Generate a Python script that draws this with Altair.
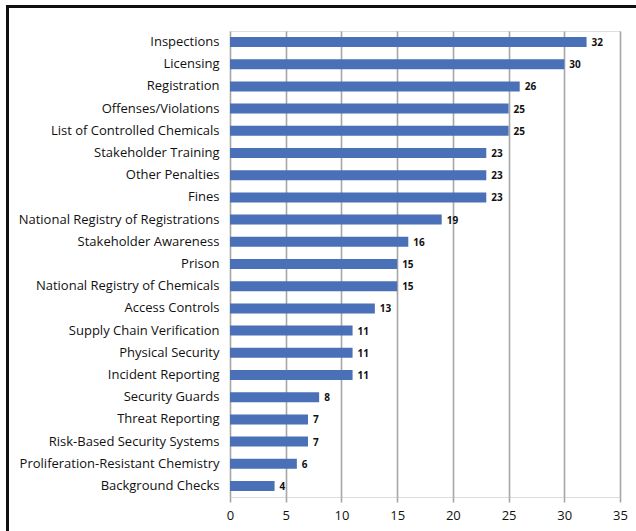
import altair as alt
import pandas as pd

categories = [
    "Inspections", "Licensing", "Registration", "Offenses/Violations",
    "List of Controlled Chemicals", "Stakeholder Training", "Other Penalties",
    "Fines", "National Registry of Registrations", "Stakeholder Awareness",
    "Prison", "National Registry of Chemicals", "Access Controls",
    "Supply Chain Verification", "Physical Security", "Incident Reporting",
    "Security Guards", "Threat Reporting", "Risk-Based Security Systems",
    "Proliferation-Resistant Chemistry", "Background Checks",
]
values = [32, 30, 26, 25, 25, 23, 23, 23, 19, 16, 15, 15, 13, 11, 11, 11, 8, 7, 7, 6, 4]
x_ticks = [0, 5, 10, 15, 20, 25, 30, 35]

df = pd.DataFrame({"category": categories, "value": values})

W, H = 390, 466
LABEL_FONT = "Open Sans"

y_enc = alt.Y("category:N", sort=categories, title=None,
              scale=alt.Scale(paddingInner=0.55, paddingOuter=0.27),
              axis=alt.Axis(ticks=False, domain=False, labelPadding=11,
                            labelFont=LABEL_FONT, labelFontSize=13,
                            labelColor="#111111", labelLimit=300))
x_enc = alt.X("value:Q", title=None,
              scale=alt.Scale(domain=[0, 35], nice=False),
              axis=alt.Axis(values=x_ticks, grid=True, gridColor="#a6a6a6",
                            gridWidth=1.6, domain=False, ticks=True,
                            tickSize=5, tickColor="#a6a6a6", tickWidth=1.6,
                            labelFlush=False,
                            labelFont=LABEL_FONT, labelFontSize=13,
                            labelColor="#111111", labelPadding=7))

bars = alt.Chart(df).mark_bar(color="#4a70b8").encode(x=x_enc, y=y_enc)

labels = alt.Chart(df).mark_text(
    align="left", baseline="middle", dx=5, dy=1,
    font=LABEL_FONT, fontSize=10, fontWeight="bold", color="#111111"
).encode(x="value:Q", y=alt.Y("category:N", sort=categories), text="value:Q")

left_border = alt.Chart(df).mark_rule(color="#111111", strokeWidth=1.8).encode(
    x=alt.value(-222.5), y=alt.value(-24.5), y2=alt.value(H + 35)
)
top_border = alt.Chart(df).mark_rule(color="#111111", strokeWidth=1.8).encode(
    y=alt.value(-24.5), x=alt.value(-223.4), x2=alt.value(W + 16)
)

chart = alt.layer(bars, labels, left_border, top_border).properties(
    width=W, height=H,
    autosize=alt.AutoSizeParams(type="none"),
    padding={"left": 230, "top": 31, "right": 16, "bottom": 34},
).configure_view(stroke=None).configure(background="white")

chart.save("out.html", embed_options={"renderer": "svg", "actions": False})
